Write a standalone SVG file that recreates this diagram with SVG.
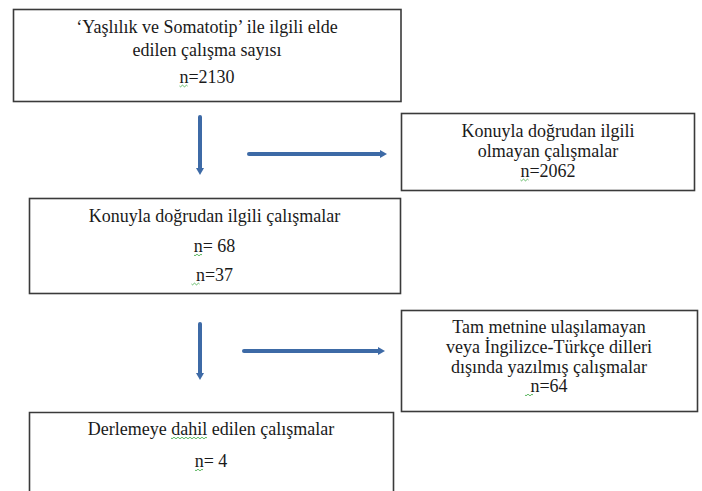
<svg xmlns="http://www.w3.org/2000/svg" width="702" height="491" viewBox="0 0 702 491">
<style>
.box{fill:#fff;stroke:#3a3a3a;stroke-width:1.6}
.t{font-family:"Liberation Serif","Times New Roman",serif;font-size:18px;fill:#1a1a1a;text-anchor:middle}
.conn{stroke:#3D6AA6;stroke-width:4;stroke-linecap:round;fill:none}
.sq{stroke:#4CAF50;stroke-width:0.9;fill:none}
</style>
<defs>
<marker id="ah" markerUnits="userSpaceOnUse" markerWidth="8" markerHeight="9" refX="1" refY="4.5" orient="auto">
<path d="M0,0.5 L7,4.5 L0,8.5 Z" fill="#3D6AA6"/>
</marker>
</defs>
<rect width="702" height="491" fill="#fff"/>
<g id="n1">
<rect class="box" x="13.5" y="9.5" width="387.5" height="92"/>
<text class="t" x="207" y="33">‘Yaşlılık ve Somatotip’ ile ilgili elde</text>
<text class="t" x="207" y="56">edilen çalışma sayısı</text>
<text class="t" x="207" y="83">n=2130</text>
<path class="sq" d="M179.5,86 q1,1.6 2,0 t2,0 t2,0 t2,0"/>
</g>
<g id="n2">
<rect class="box" x="401.5" y="113.5" width="293" height="77"/>
<text class="t" x="548" y="137">Konuyla doğrudan ilgili</text>
<text class="t" x="548" y="157">olmayan çalışmalar</text>
<text class="t" x="548" y="177">n=2062</text>
<path class="sq" d="M520.5,180 q1,1.6 2,0 t2,0 t2,0 t2,0"/>
</g>
<g id="n3">
<rect class="box" x="29.5" y="198.5" width="371" height="95"/>
<text class="t" x="214.5" y="222">Konuyla doğrudan ilgili çalışmalar</text>
<text class="t" x="214.5" y="252">n= 68</text>
<path class="sq" d="M194,255 q1,1.6 2,0 t2,0 t2,0 t2,0"/>
<text class="t" x="214.5" y="281">n=37</text>
<path class="sq" d="M191.5,284 q1,1.6 2,0 t2,0 t2,0 t2,0"/>
</g>
<g id="n4">
<rect class="box" x="401.5" y="310.5" width="296" height="101"/>
<text class="t" x="549" y="333">Tam metnine ulaşılamayan</text>
<text class="t" x="549" y="353">veya İngilizce-Türkçe dilleri</text>
<text class="t" x="549" y="373">dışında yazılmış çalışmalar</text>
<text class="t" x="549" y="392">n=64</text>
<path class="sq" d="M525,395 q1,1.6 2,0 t2,0 t2,0 t2,0"/>
</g>
<g id="n5">
<path class="box" d="M29.5,495 V412.5 H393.5 V495"/>
<text class="t" x="211" y="435">Derlemeye dahil edilen çalışmalar</text>
<path class="sq" d="M171,438 q1,1.6 2,0 t2,0 t2,0 t2,0 t2,0 t2,0 t2,0 t2,0 t2,0 t2,0 t2,0 t2,0 t2,0 t2,0 t2,0 t2,0 t2,0 t2,0"/>
<text class="t" x="211" y="467">n= 4</text>
<path class="sq" d="M195,470 q1,1.6 2,0 t2,0 t2,0 t2,0"/>
</g>
<g id="connectors">
<line class="conn" x1="200" y1="117" x2="200" y2="169" marker-end="url(#ah)"/>
<line class="conn" x1="249" y1="154" x2="381" y2="154" marker-end="url(#ah)"/>
<line class="conn" x1="200" y1="324" x2="200" y2="374" marker-end="url(#ah)"/>
<line class="conn" x1="244" y1="351" x2="379" y2="351" marker-end="url(#ah)"/>
</g>
</svg>
